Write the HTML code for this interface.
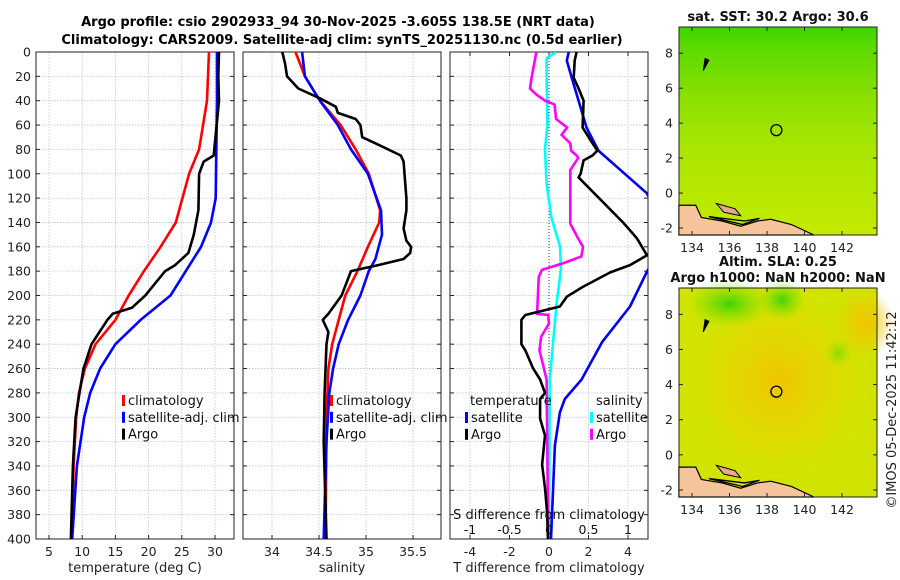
<!DOCTYPE html>
<html><head><meta charset="utf-8"><style>
html,body{margin:0;padding:0;background:#fff;}
svg{display:block;font-family:"DejaVu Sans","Liberation Sans",sans-serif;}
</style></head><body>
<svg id="fig" width="900" height="580" viewBox="0 0 900 580">
<defs>
<clipPath id="c1"><rect x="36" y="52" width="198" height="487"/></clipPath>
<clipPath id="c2"><rect x="243" y="52" width="198" height="487"/></clipPath>
<clipPath id="c3"><rect x="450" y="52" width="198" height="487"/></clipPath>
<linearGradient id="sstg" x1="0" y1="0" x2="0" y2="1">
<stop offset="0" stop-color="#3cd600"/><stop offset="0.1" stop-color="#5cda00"/><stop offset="0.35" stop-color="#8ce000"/><stop offset="0.6" stop-color="#aae600"/><stop offset="1" stop-color="#c4ea00"/></linearGradient>
<radialGradient id="slac" cx="0.5" cy="0.45" r="0.5"><stop offset="0" stop-color="#f0c400"/><stop offset="0.6" stop-color="#e6d800" stop-opacity="0.6"/><stop offset="1" stop-color="#d8e400" stop-opacity="0"/></radialGradient>
<radialGradient id="slag" cx="0.5" cy="0.5" r="0.5"><stop offset="0" stop-color="#40d400"/><stop offset="1" stop-color="#80e000" stop-opacity="0"/></radialGradient>
<radialGradient id="slao" cx="0.5" cy="0.5" r="0.5"><stop offset="0" stop-color="#f2c400"/><stop offset="1" stop-color="#f2c400" stop-opacity="0"/></radialGradient>
</defs>
<g font-weight="bold" font-size="13" text-anchor="middle">
<text x="338" y="26">Argo profile: csio 2902933_94 30-Nov-2025 -3.605S 138.5E (NRT data)</text>
<text x="342" y="44">Climatology: CARS2009. Satellite-adj clim: synTS_20251130.nc (0.5d earlier)</text>
</g>
<g id="p1"></g>
<g id="p2"></g>
<g id="p3"></g>
<g id="m1"></g>
<g id="m2"></g>
<text transform="translate(896,410) rotate(-90)" text-anchor="middle" font-size="13" fill="#222">©IMOS 05-Dec-2025 11:42:12</text>
</svg>
<script>
// ---- data ----
const depthTicks=[0,20,40,60,80,100,120,140,160,180,200,220,240,260,280,300,320,340,360,380,400];
const tempTicks=[5,10,15,20,25,30];
const salTicks=[34,34.5,35,35.5];
const tdTicks=[-4,-2,0,2,4];
const sdTicks=[-1,-0.5,0,0.5,1];
const sdTickLabels=["-1","-0.5","0","0.5","1"];
const lonTicks=[134,136,138,140,142];
const latTicks=[-2,0,2,4,6,8];

const tClimD=[0,40,80,100,140,160,180,200,220,240,260,280,300,340,400];
const tClimV=[29.1,28.8,27.6,26.1,24.1,21.8,19.3,17.0,15.0,12.0,10.4,9.5,9.1,8.7,8.4];
const tSatD=[0,40,120,140,160,180,200,220,240,260,280,300,340,400];
const tSatV=[30.3,30.3,30.1,29.4,27.9,25.6,23.3,18.8,15.0,12.7,11.2,10.3,9.2,8.5];
const tArgoD=[0,20,40,85,90,100,130,150,165,175,180,190,200,210,215,220,240,260,280,300,340,400];
const tArgoV=[30.6,30.5,30.6,29.8,28.3,27.6,27.5,26.8,26.0,24.0,22.5,21.0,19.5,17.5,14.6,13.8,11.4,10.2,9.6,9.0,8.6,8.3];

const sClimD=[0,20,40,60,80,100,130,140,160,180,200,220,240,260,300,400];
const sClimV=[34.25,34.35,34.51,34.73,34.89,35.03,35.15,35.14,35.02,34.91,34.78,34.71,34.64,34.60,34.58,34.57];
const sSatD=[0,20,40,60,80,100,130,150,170,180,200,220,240,260,280,320,400];
const sSatV=[34.32,34.35,34.51,34.70,34.84,35.02,35.16,35.17,35.10,35.03,34.94,34.81,34.71,34.65,34.61,34.58,34.55];
const sArgoD=[0,10,20,30,38,45,50,55,60,70,75,85,90,100,120,130,145,155,160,165,170,175,180,190,200,215,220,230,240,280,320,400];
const sArgoV=[34.11,34.14,34.16,34.28,34.51,34.68,34.70,34.89,34.94,34.96,35.10,35.37,35.40,35.41,35.43,35.43,35.40,35.43,35.48,35.47,35.40,35.13,34.84,34.79,34.74,34.60,34.54,34.60,34.58,34.56,34.55,34.58];

const dTSatD=[0,7,21,40,62,81,116,140,160,179,209,238,269,285,296,323,400];
const dTSatV=[1.0,0.9,1.15,1.5,1.9,2.5,4.95,5.8,6.2,5.0,4.1,2.7,1.65,0.8,0.55,0.3,0.1];
const dTArgoD=[0,7,21,30,40,62,75,81,85,89,100,103,140,153,167,175,181,193,201,209,216,220,240,245,260,269,280,285,301,315,339,358,377,400];
const dTArgoV=[1.4,1.3,1.25,1.5,1.75,1.7,2.2,2.45,2.2,1.75,1.6,1.5,3.75,4.45,4.96,4.1,3.1,1.7,0.9,0.55,-1.2,-1.4,-1.4,-1.2,-0.8,-0.45,-0.2,-0.45,-0.45,-0.2,-0.35,-0.2,-0.1,-0.05];
const dSSatD=[0,5,21,60,80,108,136,160,179,204,239,269,400];
const dSSatV=[0.09,-0.03,-0.03,-0.02,-0.05,-0.03,0.03,0.14,0.15,0.1,0.05,0.01,0.0];
const dSArgoD=[0,7,21,30,35,40,43,55,62,68,75,81,85,87,97,141,152,160,168,174,179,185,215,216,223,234,245,269,400];
const dSArgoV=[-0.16,-0.18,-0.22,-0.24,-0.16,-0.05,0.07,0.09,0.23,0.16,0.27,0.28,0.35,0.37,0.27,0.27,0.36,0.43,0.41,0.16,-0.09,-0.13,-0.15,-0.01,0.0,-0.1,-0.12,-0.03,-0.01];

const argoLon=[138.5], argoLat=[3.6];

// ---- helpers ----
const NS="http://www.w3.org/2000/svg";
function mk(parent,tag,attrs,txt){const e=document.createElementNS(NS,tag);for(const k in attrs)e.setAttribute(k,attrs[k]);if(txt!==undefined)e.textContent=txt;parent.appendChild(e);return e;}
const Y=d=>52+d*(487/400);
function panel(g,x0,x1,xf,ticks,labels,clip,showY){
  for(const t of ticks){mk(g,'line',{x1:xf(t),x2:xf(t),y1:52,y2:539,stroke:'#b8c4e8','stroke-width':0.8,'stroke-dasharray':'1.5,1.5'});}
  for(const d of depthTicks){if(d>0&&d<400)mk(g,'line',{x1:x0,x2:x1,y1:Y(d),y2:Y(d),stroke:'#b8c4e8','stroke-width':0.8,'stroke-dasharray':'1.5,1.5'});}
  for(const d of depthTicks){mk(g,'line',{x1:x0,x2:x0+4,y1:Y(d),y2:Y(d),stroke:'#222'});mk(g,'line',{x1:x1-4,x2:x1,y1:Y(d),y2:Y(d),stroke:'#222'});
    if(showY){const tx=mk(g,'text',{x:x0-5,y:Y(d)+4.5,'text-anchor':'end','font-size':12.5,fill:'#222'},d);}}
  ticks.forEach((t,i)=>{mk(g,'line',{x1:xf(t),x2:xf(t),y1:535,y2:539,stroke:'#222'});
    if(labels){const tx=mk(g,'text',{x:xf(t),y:556,'text-anchor':'middle','font-size':12.5,fill:'#222'},labels[i]);}});
  mk(g,'rect',{x:x0,y:52,width:x1-x0,height:487,fill:'none',stroke:'#222','stroke-width':1});
}
function line(g,D,V,xf,col,clip,name,w){
  const d=D.map((dd,i)=>(i?'L':'M')+xf(V[i]).toFixed(1)+','+Y(dd).toFixed(1)).join('');
  const p=mk(g,'path',{d:d,fill:'none',stroke:col,'stroke-width':w||2.6,'stroke-linejoin':'round','clip-path':'url(#'+clip+')'});
  
  
}
function legend(g,x,y,items){items.forEach((it,i)=>{mk(g,'rect',{x:x,y:y+i*16.8-10,width:3,height:11,fill:it[1]});const t=mk(g,'text',{x:x+6,y:y+i*16.8,'font-size':13,fill:'#111'},it[0]);});}

// panel 1
const p1=document.getElementById('p1');
const xT=t=>49+(t-5)*(166/25);
panel(p1,36,234,xT,tempTicks,tempTicks.map(String),'c1',true);
line(p1,tClimD,tClimV,xT,'#f00','c1','climatology-temp-line');
line(p1,tSatD,tSatV,xT,'#00f','c1','satellite-temp-line');
line(p1,tArgoD,tArgoV,xT,'#000','c1','argo-temp-line');
legend(p1,122,405,[['climatology','#f00'],['satellite-adj. clim','#00f'],['Argo','#000']]);
mk(p1,'text',{x:135,y:572,'text-anchor':'middle','font-size':13,fill:'#222'},'temperature (deg C)');

// panel 2
const p2=document.getElementById('p2');
const xS=s=>272+(s-34)*94;
panel(p2,243,441,xS,salTicks,salTicks.map(String),'c2',false);
line(p2,sClimD,sClimV,xS,'#f00','c2','climatology-sal-line');
line(p2,sSatD,sSatV,xS,'#00f','c2','satellite-sal-line');
line(p2,sArgoD,sArgoV,xS,'#000','c2','argo-sal-line');
legend(p2,330,405,[['climatology','#f00'],['satellite-adj. clim','#00f'],['Argo','#000']]);
mk(p2,'text',{x:342,y:572,'text-anchor':'middle','font-size':13,fill:'#222'},'salinity');

// panel 3
const p3=document.getElementById('p3');
const xDT=t=>549+t*19.75;
const xDS=s=>549+s*79;
panel(p3,450,648,xDT,tdTicks,tdTicks.map(String),'c3',false);
sdTicks.forEach(t=>{mk(p3,'line',{x1:xDS(t),x2:xDS(t),y1:52,y2:56,stroke:'#222'});});
mk(p3,'line',{x1:549,x2:549,y1:52,y2:539,stroke:'#333','stroke-width':1,'stroke-dasharray':'1,2'});
line(p3,dSSatD,dSSatV,xDS,'#00ffff','c3','satellite-sal-diff-line');
line(p3,dSArgoD,dSArgoV,xDS,'#ff00ff','c3','argo-sal-diff-line');
line(p3,dTSatD,dTSatV,xDT,'#0000ee','c3','satellite-temp-diff-line');
line(p3,dTArgoD,dTArgoV,xDT,'#000','c3','argo-temp-diff-line');
mk(p3,'text',{x:470,y:405,'font-size':13,fill:'#111'},'temperature');
mk(p3,'text',{x:596,y:405,'font-size':13,fill:'#111'},'salinity');
legend(p3,465,422,[['satellite','#00f'],['Argo','#000']]);
legend(p3,590,422,[['satellite','#00ffff'],['Argo','#ff00ff']]);
mk(p3,'text',{x:549,y:519,'text-anchor':'middle','font-size':13,fill:'#111'},'S difference from climatology');
sdTicks.forEach((t,i)=>{const tx=mk(p3,'text',{x:xDS(t),y:534,'text-anchor':'middle','font-size':12.5,fill:'#111'},sdTickLabels[i]);});
mk(p3,'text',{x:549,y:572,'text-anchor':'middle','font-size':13,fill:'#222'},'T difference from climatology');

// maps
function map(g,top,bot,title,kind){
  const x0=679,x1=877;
  const lx=l=>692+(l-134)*18.75;
  const ly=l=>top+ (9.5-l)*(bot-top)/11.9;
  if(kind==='sst'){
    mk(g,'rect',{x:x0,y:top,width:x1-x0,height:bot-top,fill:'url(#sstg)'});
  } else {
    mk(g,'rect',{x:x0,y:top,width:x1-x0,height:bot-top,fill:'#d0e400'});
    mk(g,'rect',{x:x0,y:top,width:x1-x0,height:bot-top,fill:'url(#slac)'});
    mk(g,'ellipse',{cx:lx(136),cy:ly(8.6),rx:42,ry:24,fill:'url(#slag)'});
    mk(g,'ellipse',{cx:lx(138.8),cy:ly(8.8),rx:24,ry:20,fill:'url(#slag)'});
    mk(g,'ellipse',{cx:lx(143.2),cy:ly(7.5),rx:30,ry:35,fill:'url(#slao)'});
    mk(g,'ellipse',{cx:lx(141.8),cy:ly(5.8),rx:14,ry:16,fill:'url(#slag)','opacity':0.5});
  }
  const land='M'+lx(133.3)+','+ly(-0.7)+' L'+lx(134.2)+','+ly(-0.7)+' L'+lx(134.5)+','+ly(-1.4)+' L'+lx(135.6)+','+ly(-1.6)+' L'+lx(136.6)+','+ly(-1.9)+' L'+lx(137.5)+','+ly(-1.6)+' L'+lx(138.2)+','+ly(-1.5)+' L'+lx(139.3)+','+ly(-1.8)+' L'+lx(140.5)+','+ly(-2.4)+' L'+lx(133.3)+','+ly(-2.4)+' Z';
  mk(g,'path',{d:land,fill:'#f5c49a',stroke:'#000','stroke-width':1.2});
  mk(g,'path',{d:'M'+lx(135.3)+','+ly(-0.6)+' L'+lx(136.3)+','+ly(-0.9)+' L'+lx(136.6)+','+ly(-1.3)+' L'+lx(135.7)+','+ly(-1.1)+' Z',fill:'#e8a88a',stroke:'#000','stroke-width':1});
  mk(g,'path',{d:'M'+lx(134.6)+','+ly(7.0)+' L'+lx(134.9)+','+ly(7.6)+' L'+lx(134.7)+','+ly(7.7)+' Z',fill:'#000',stroke:'#000','stroke-width':1});
  mk(g,'path',{d:'M'+lx(134.9)+','+ly(-1.35)+' L'+lx(136.8)+','+ly(-1.6)+' L'+lx(137.6)+','+ly(-1.45)+' L'+lx(136.7)+','+ly(-1.8)+' Z',fill:'none',stroke:'#000','stroke-width':1.3});
  const c=mk(g,'circle',{cx:lx(argoLon[0]),cy:ly(argoLat[0]),r:5.5,fill:'none',stroke:'#000','stroke-width':1.3});
  
  
  mk(g,'rect',{x:x0,y:top,width:x1-x0,height:bot-top,fill:'none',stroke:'#222','stroke-width':1});
  for(const l of lonTicks){mk(g,'line',{x1:lx(l),x2:lx(l),y1:bot-4,y2:bot,stroke:'#222'});mk(g,'line',{x1:lx(l),x2:lx(l),y1:top,y2:top+4,stroke:'#222'});
    mk(g,'text',{x:lx(l),y:bot+17,'text-anchor':'middle','font-size':12.5,fill:'#222'},l);}
  for(const l of latTicks){mk(g,'line',{x1:x0,x2:x0+4,y1:ly(l),y2:ly(l),stroke:'#222'});mk(g,'line',{x1:x1-4,x2:x1,y1:ly(l),y2:ly(l),stroke:'#222'});
    mk(g,'text',{x:x0-6,y:ly(l)+4.5,'text-anchor':'end','font-size':12.5,fill:'#222'},l);}
  title.forEach((s,i)=>mk(g,'text',{x:778,y:top-6-(title.length-1-i)*16,'text-anchor':'middle','font-size':13,'font-weight':'bold',fill:'#111'},s));
}
map(document.getElementById('m1'),27,235,['sat. SST: 30.2 Argo: 30.6'],'sst');
map(document.getElementById('m2'),288,497,['Altim. SLA: 0.25','Argo h1000: NaN h2000: NaN'],'sla');
</script>
</body></html>
